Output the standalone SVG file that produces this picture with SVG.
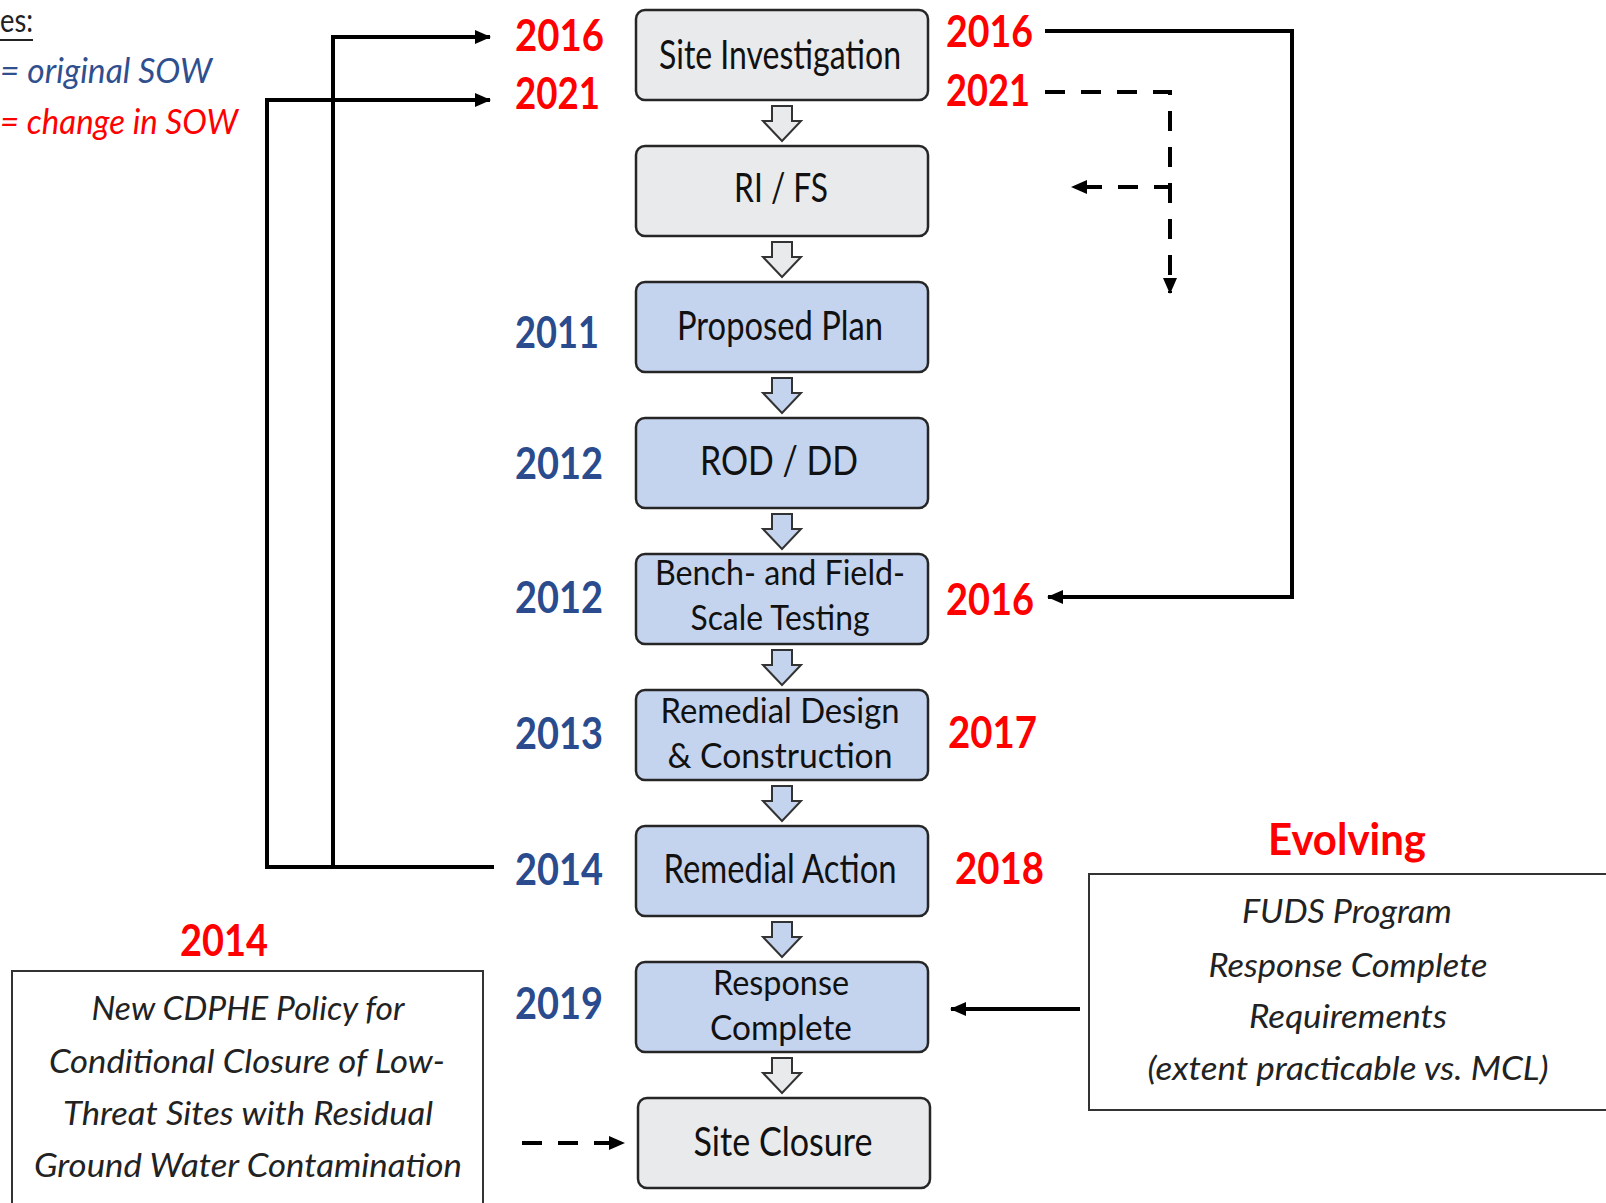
<svg xmlns="http://www.w3.org/2000/svg" width="1606" height="1203" viewBox="0 0 1606 1203">
<defs>
<style>
.box{stroke:#262626;stroke-width:2.5}
.gray{fill:#e9eaec}
.blue{fill:#c5d4ee}
.bt{font-family:Lato,"Liberation Sans",sans-serif;font-size:40px;fill:#111;text-anchor:middle}
.bt2{font-family:Lato,"Liberation Sans",sans-serif;font-size:35px;fill:#111;text-anchor:middle}
.yr{font-family:Lato,"Liberation Sans",sans-serif;font-size:44px;font-weight:bold}
.yb{fill:#2a4b8d}
.yrd{fill:#ff0000}
.it{font-family:Lato,"Liberation Sans",sans-serif;font-style:italic;font-size:33px;fill:#222;text-anchor:middle}
.ln{fill:none;stroke:#000;stroke-width:4}
.dash{fill:none;stroke:#000;stroke-width:4;stroke-dasharray:20 16}
.blk{stroke:#333;stroke-width:2}
</style>
<marker id="ah" markerUnits="userSpaceOnUse" markerWidth="16" markerHeight="14" refX="15" refY="7" orient="auto">
<path d="M0,0 L16,7 L0,14 z" fill="#000"/>
</marker>
</defs>
<rect width="1606" height="1203" fill="#fff"/>

<g id="legend">
<text x="0" y="32" font-family="Lato, 'Liberation Sans', sans-serif" font-size="33" fill="#222" textLength="33" lengthAdjust="spacingAndGlyphs">es:</text>
<line x1="0" y1="40" x2="33" y2="40" stroke="#222" stroke-width="2"/>
<text x="0" y="83" font-family="Lato, 'Liberation Sans', sans-serif" font-style="italic" font-size="34" fill="#2f4f8f" textLength="212" lengthAdjust="spacingAndGlyphs">= original SOW</text>
<text x="0" y="134" font-family="Lato, 'Liberation Sans', sans-serif" font-style="italic" font-size="35" fill="#ff0000" textLength="238" lengthAdjust="spacingAndGlyphs">= change in SOW</text>
</g>

<g id="connectors">
<polyline class="ln" points="494,867 333,867 333,37 490,37" marker-end="url(#ah)"/>
<polyline class="ln" points="333,867 267,867 267,100 490,100" marker-end="url(#ah)"/>
<polyline class="ln" points="1045,31 1292,31 1292,597 1048,597" marker-end="url(#ah)"/>
<polyline class="dash" points="1045,92 1170,92 1170,293" marker-end="url(#ah)"/>
<polyline class="dash" points="1170,187 1072,187" marker-end="url(#ah)" stroke-dashoffset="4"/>
<line class="ln" x1="1080" y1="1009" x2="951" y2="1009" marker-end="url(#ah)"/>
<line class="dash" x1="522" y1="1143" x2="624" y2="1143" marker-end="url(#ah)"/>
<g id="flow-arrows" stroke="#333" stroke-width="2" stroke-linejoin="miter">
<path class="gray" d="M772,106 H792 V121 H801 L782,141 L763,121 H772 Z"/>
<path class="gray" d="M772,242 H792 V257 H801 L782,277 L763,257 H772 Z"/>
<path class="blue" d="M772,378 H792 V393 H801 L782,413 L763,393 H772 Z"/>
<path class="blue" d="M772,514 H792 V529 H801 L782,549 L763,529 H772 Z"/>
<path class="blue" d="M772,650 H792 V665 H801 L782,685 L763,665 H772 Z"/>
<path class="blue" d="M772,786 H792 V801 H801 L782,821 L763,801 H772 Z"/>
<path class="blue" d="M772,922 H792 V937 H801 L782,957 L763,937 H772 Z"/>
<path class="gray" d="M772,1058 H792 V1073 H801 L782,1093 L763,1073 H772 Z"/>
</g>
</g>

<g id="n-site-investigation">
<rect class="box gray" x="636" y="10" width="292" height="90" rx="9"/>
<text class="bt" x="780" y="69" textLength="242" lengthAdjust="spacingAndGlyphs">Site Investigation</text>
</g>
<g id="n-rifs">
<rect class="box gray" x="636" y="146" width="292" height="90" rx="9"/>
<text class="bt" x="781" y="202" textLength="94" lengthAdjust="spacingAndGlyphs">RI / FS</text>
</g>
<g id="n-proposed-plan">
<rect class="box blue" x="636" y="282" width="292" height="90" rx="9"/>
<text class="bt" x="780" y="340" textLength="206" lengthAdjust="spacingAndGlyphs">Proposed Plan</text>
</g>
<g id="n-rod-dd">
<rect class="box blue" x="636" y="418" width="292" height="90" rx="9"/>
<text class="bt" x="779" y="475" textLength="158" lengthAdjust="spacingAndGlyphs">ROD / DD</text>
</g>
<g id="n-bench">
<rect class="box blue" x="636" y="554" width="292" height="90" rx="9"/>
<text class="bt2" x="780" y="585" textLength="250" lengthAdjust="spacingAndGlyphs">Bench- and Field-</text>
<text class="bt2" x="780" y="630" textLength="179" lengthAdjust="spacingAndGlyphs">Scale Testing</text>
</g>
<g id="n-remedial-design">
<rect class="box blue" x="636" y="690" width="292" height="90" rx="9"/>
<text class="bt2" x="780" y="723" textLength="239" lengthAdjust="spacingAndGlyphs">Remedial Design</text>
<text class="bt2" x="780" y="768" textLength="225" lengthAdjust="spacingAndGlyphs">&amp; Construction</text>
</g>
<g id="n-remedial-action">
<rect class="box blue" x="636" y="826" width="292" height="90" rx="9"/>
<text class="bt" x="780" y="883" textLength="233" lengthAdjust="spacingAndGlyphs">Remedial Action</text>
</g>
<g id="n-response-complete">
<rect class="box blue" x="636" y="962" width="292" height="90" rx="9"/>
<text class="bt2" x="781" y="995" font-size="37" textLength="136" lengthAdjust="spacingAndGlyphs">Response</text>
<text class="bt2" x="781" y="1040" font-size="37" textLength="142" lengthAdjust="spacingAndGlyphs">Complete</text>
</g>
<g id="n-site-closure">
<rect class="box gray" x="638" y="1098" width="292" height="90" rx="9"/>
<text class="bt" x="783" y="1156" textLength="179" lengthAdjust="spacingAndGlyphs">Site Closure</text>
</g>

<g id="years">
<text class="yr yrd" x="515" y="51" textLength="89" lengthAdjust="spacingAndGlyphs">2016</text>
<text class="yr yrd" x="515" y="109" textLength="85" lengthAdjust="spacingAndGlyphs">2021</text>
<text class="yr yrd" x="946" y="47" textLength="87" lengthAdjust="spacingAndGlyphs">2016</text>
<text class="yr yrd" x="946" y="106" textLength="84" lengthAdjust="spacingAndGlyphs">2021</text>
<text class="yr yb" x="515" y="348" textLength="84" lengthAdjust="spacingAndGlyphs">2011</text>
<text class="yr yb" x="515" y="479" textLength="88" lengthAdjust="spacingAndGlyphs">2012</text>
<text class="yr yb" x="515" y="613" textLength="88" lengthAdjust="spacingAndGlyphs">2012</text>
<text class="yr yrd" x="946" y="615" textLength="88" lengthAdjust="spacingAndGlyphs">2016</text>
<text class="yr yb" x="515" y="749" textLength="88" lengthAdjust="spacingAndGlyphs">2013</text>
<text class="yr yrd" x="948" y="748" textLength="89" lengthAdjust="spacingAndGlyphs">2017</text>
<text class="yr yb" x="515" y="885" textLength="88" lengthAdjust="spacingAndGlyphs">2014</text>
<text class="yr yrd" x="955" y="884" textLength="89" lengthAdjust="spacingAndGlyphs">2018</text>
<text class="yr yb" x="515" y="1019" textLength="88" lengthAdjust="spacingAndGlyphs">2019</text>
<text class="yr yrd" x="180" y="956" textLength="88" lengthAdjust="spacingAndGlyphs">2014</text>
</g>

<g id="n-cdphe">
<rect class="blk" x="12" y="971" width="471" height="260" fill="#fff"/>
<text class="it" x="248" y="1020" textLength="313" lengthAdjust="spacingAndGlyphs">New CDPHE Policy for</text>
<text class="it" x="247" y="1073" textLength="396" lengthAdjust="spacingAndGlyphs">Conditional Closure of Low-</text>
<text class="it" x="248" y="1125" textLength="370" lengthAdjust="spacingAndGlyphs">Threat Sites with Residual</text>
<text class="it" x="248" y="1177" textLength="428" lengthAdjust="spacingAndGlyphs">Ground Water Contamination</text>
</g>

<g id="n-fuds">
<text class="yr yrd" x="1347" y="855" font-size="40" text-anchor="middle" textLength="158" lengthAdjust="spacingAndGlyphs">Evolving</text>
<rect class="blk" x="1089" y="874" width="540" height="236" fill="#fff"/>
<text class="it" x="1347" y="923" textLength="210" lengthAdjust="spacingAndGlyphs">FUDS Program</text>
<text class="it" x="1348" y="977" textLength="279" lengthAdjust="spacingAndGlyphs">Response Complete</text>
<text class="it" x="1348" y="1028" textLength="198" lengthAdjust="spacingAndGlyphs">Requirements</text>
<text class="it" x="1348" y="1080" textLength="401" lengthAdjust="spacingAndGlyphs">(extent practicable vs. MCL)</text>
</g>
</svg>
